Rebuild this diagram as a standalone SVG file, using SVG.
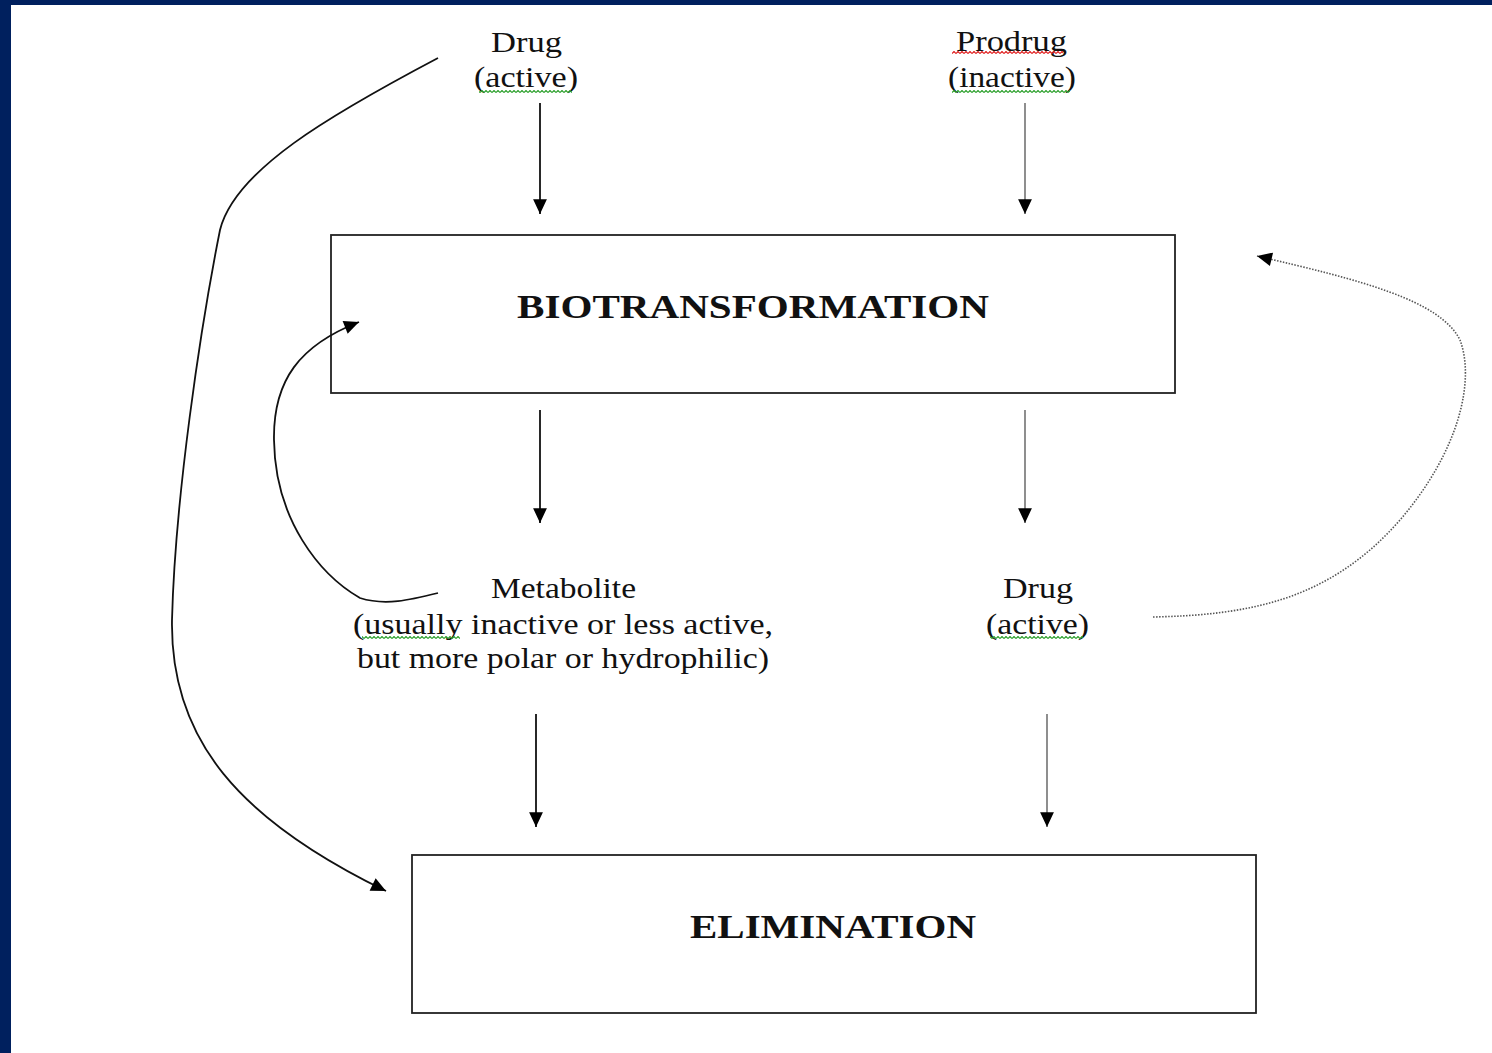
<svg xmlns="http://www.w3.org/2000/svg" width="1492" height="1053" viewBox="0 0 1492 1053">
<style>
.t{font-family:"Liberation Serif","Times New Roman",serif;font-size:30px;fill:#111;}
.b{font-family:"Liberation Serif","Times New Roman",serif;font-size:34px;font-weight:bold;fill:#111;}
.box{fill:#fff;stroke:#222;stroke-width:1.8;}
.ln{fill:none;stroke:#111;stroke-width:1.8;}
.lg{fill:none;stroke:#444;stroke-width:1.2;}
.dot{fill:none;stroke:#555;stroke-width:1.6;stroke-dasharray:1.5 1.5;}
</style>
<defs>
<marker id="ah" markerUnits="userSpaceOnUse" markerWidth="17" markerHeight="17" viewBox="0 0 16 16" refX="15" refY="8" orient="auto">
<path d="M1,1.5 L15,8 L1,14.5 Z" fill="#000"/>
</marker>
<pattern id="wg" patternUnits="userSpaceOnUse" width="4" height="3"><path d="M0,2.5 L2,0.5 L4,2.5" fill="none" stroke="#2ca02c" stroke-width="1.2"/></pattern>
<pattern id="wr" patternUnits="userSpaceOnUse" width="4" height="3"><path d="M0,2.5 L2,0.5 L4,2.5" fill="none" stroke="#e02020" stroke-width="1.2"/></pattern>
</defs>
<rect x="0" y="0" width="1492" height="1053" fill="#fff"/>
<rect x="0" y="0" width="1492" height="5" fill="#00205e"/>
<rect x="0" y="0" width="11" height="1053" fill="#00205e"/>

<g id="drug-top">
<text class="t" x="491" y="52" textLength="71" lengthAdjust="spacingAndGlyphs">Drug</text>
<text class="t" x="474" y="87" textLength="104" lengthAdjust="spacingAndGlyphs">(active)</text>
<rect x="479" y="90" width="93" height="3" fill="url(#wg)"/>
</g>
<g id="prodrug">
<text class="t" x="956" y="51" textLength="111" lengthAdjust="spacingAndGlyphs">Prodrug</text>
<rect x="952" y="51" width="111" height="3" fill="url(#wr)"/>
<text class="t" x="948" y="87" textLength="128" lengthAdjust="spacingAndGlyphs">(inactive)</text>
<rect x="952" y="90" width="118" height="3" fill="url(#wg)"/>
</g>
<g id="biotransformation">
<rect class="box" x="331" y="235" width="844" height="158"/>
<text class="b" x="517" y="318" textLength="472" lengthAdjust="spacingAndGlyphs">BIOTRANSFORMATION</text>
</g>
<g id="metabolite">
<text class="t" x="491" y="598" textLength="145" lengthAdjust="spacingAndGlyphs">Metabolite</text>
<text class="t" x="353" y="634" textLength="420" lengthAdjust="spacingAndGlyphs">(usually inactive or less active,</text>
<rect x="362" y="636" width="98" height="3" fill="url(#wg)"/>
<text class="t" x="357" y="668" textLength="412" lengthAdjust="spacingAndGlyphs">but more polar or hydrophilic)</text>
</g>
<g id="drug-active">
<text class="t" x="1003" y="598" textLength="70" lengthAdjust="spacingAndGlyphs">Drug</text>
<text class="t" x="986" y="634" textLength="103" lengthAdjust="spacingAndGlyphs">(active)</text>
<rect x="990" y="636" width="93" height="3" fill="url(#wg)"/>
</g>
<g id="elimination">
<rect class="box" x="412" y="855" width="844" height="158"/>
<text class="b" x="690" y="938" textLength="286" lengthAdjust="spacingAndGlyphs">ELIMINATION</text>
</g>

<g id="connectors">
<path class="ln" d="M540,103 L540,214" marker-end="url(#ah)"/>
<path class="lg" d="M1025,103 L1025,214" marker-end="url(#ah)"/>
<path class="ln" d="M540,410 L540,523" marker-end="url(#ah)"/>
<path class="lg" d="M1025,410 L1025,523" marker-end="url(#ah)"/>
<path class="ln" d="M536,714 L536,827" marker-end="url(#ah)"/>
<path class="lg" d="M1047,714 L1047,827" marker-end="url(#ah)"/>
<path class="ln" stroke-width="1.5" d="M438,58 C330,115 235,170 220,230 C200,330 175,500 172,620 C170,740 240,820 386,891" marker-end="url(#ah)"/>
<path class="ln" stroke-width="1.5" d="M438,593 C410,600 385,606 360,598 C320,575 275,520 274,440 C273,380 300,345 359,322" marker-end="url(#ah)"/>
<path class="dot" d="M1153,617 C1250,615 1330,600 1400,520 C1460,450 1475,380 1460,340 C1440,300 1360,280 1257,256" marker-end="url(#ah)"/>
</g>
</svg>
